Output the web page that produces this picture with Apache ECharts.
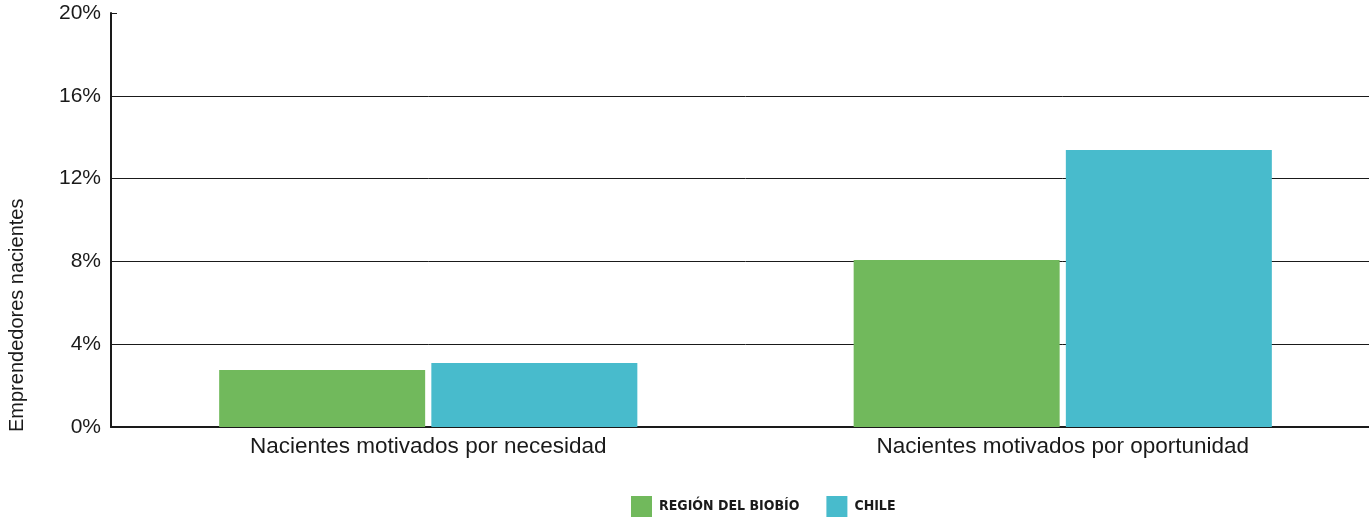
<!DOCTYPE html>
<html><head><meta charset="utf-8">
<script src="https://cdn.jsdelivr.net/npm/echarts@6/dist/echarts.min.js"></script>
<style>html,body{margin:0;padding:0;background:#fff;overflow:hidden}#c{width:1380px;height:519px}</style>
</head><body><div id="c"></div>
<script>
var categories = ['Nacientes motivados por necesidad', 'Nacientes motivados por oportunidad'];
var seriesNames = ['REGIÓN DEL BIOBÍO', 'CHILE'];
var biobio = [2.75, 8.07];
var chile = [3.09, 13.38];
var yTicks = [0, 4, 8, 12, 16, 20];

var chart = echarts.init(document.getElementById('c'));
chart.setOption({
  animation: false,
  grid: {left: 111, right: 0, top: 13, height: 414, containLabel: false},
  legend: {
    top: 495, left: 631, itemWidth: 21, itemHeight: 21, itemGap: 27,
    icon: 'rect', padding: 0,
    textStyle: {fontFamily: 'DejaVu Sans Condensed', fontWeight: 'bold', fontSize: 14, color: '#1a1a1a', lineHeight: 21, padding: [2, 0, 0, 2]},
    data: seriesNames
  },
  graphic: [{
    type: 'text', x: 17, y: 432, rotation: Math.PI / 2,
    style: {text: 'Emprendedores nacientes', fontFamily: 'Liberation Sans', fontSize: 20, fill: '#1a1a1a', align: 'left', verticalAlign: 'middle'}
  }],
  xAxis: {
    type: 'category', data: categories,
    axisLine: {lineStyle: {color: '#1a1a1a', width: 2}},
    axisTick: {show: false},
    axisLabel: {fontFamily: 'Liberation Sans', fontSize: 22.5, color: '#1a1a1a', margin: 8}
  },
  yAxis: {
    type: 'value', min: yTicks[0], max: yTicks[yTicks.length - 1], interval: 4,
    axisLine: {show: true, lineStyle: {color: '#1a1a1a', width: 2}},
    axisTick: {show: true, inside: true, length: 6, lineStyle: {color: '#1a1a1a'}},
    axisLabel: {formatter: '{value}%', fontFamily: 'Liberation Sans', fontSize: 21, color: '#1a1a1a', margin: 10},
    splitLine: {show: true, showMaxLine: false, lineStyle: {color: '#1a1a1a', width: 1}}
  },
  series: [
    {name: seriesNames[0], type: 'bar', data: biobio, barWidth: 206, barGap: '3%', itemStyle: {color: '#71B95C'}},
    {name: seriesNames[1], type: 'bar', data: chile, barWidth: 206, itemStyle: {color: '#48BBCC'}}
  ]
});
</script></body></html>
